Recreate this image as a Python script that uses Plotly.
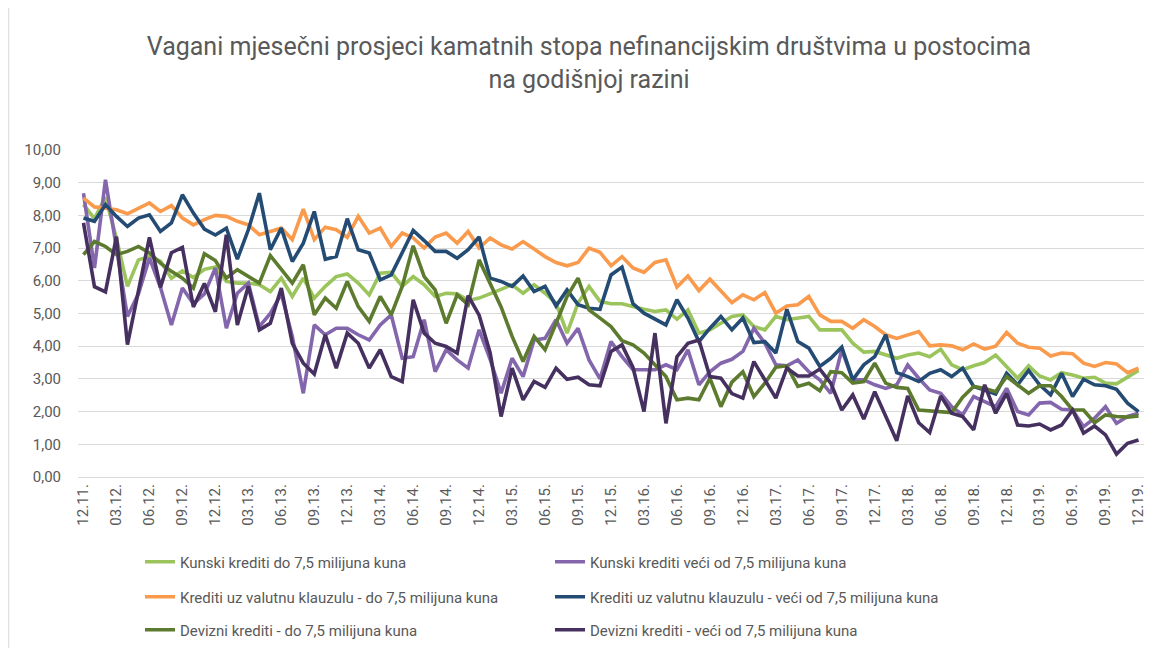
import plotly.graph_objects as go

# monthly categories 12.11. .. 12.19. (MM.YY.)
MONTHS = ['12.11.'] + [f'{m:02d}.{y:02d}.' for y in range(12, 20) for m in range(1, 13)]
TICK_LABELS = MONTHS[::3]

SERIES_NAMES = [
    'Kunski krediti do 7,5 milijuna kuna',
    'Kunski krediti veći od 7,5 milijuna kuna',
    'Krediti uz valutnu klauzulu - do 7,5 milijuna kuna',
    'Krediti uz valutnu klauzulu - veći od 7,5 milijuna kuna',
    'Devizni krediti - do 7,5 milijuna kuna',
    'Devizni krediti - veći od 7,5 milijuna kuna',
]

kunski_do = [
    8.33, 7.90, 8.55, 7.30, 5.83, 6.64, 6.74, 6.60, 6.08, 6.30, 6.10, 6.35, 6.42,
    5.98, 5.93, 5.93, 5.88, 5.67, 6.08, 5.52, 6.08, 5.47, 5.83, 6.13, 6.21, 5.93,
    5.57, 6.23, 6.26, 5.83, 6.13, 5.88, 5.52, 5.62, 5.60, 5.40, 5.47, 5.62, 5.74,
    5.88, 5.62, 5.88, 5.62, 5.32, 4.40, 5.32, 5.83, 5.37, 5.30, 5.30, 5.21, 5.13,
    5.06, 5.11, 4.83, 5.11, 4.40, 4.50, 4.70, 4.91, 4.96, 4.60, 4.50, 4.91, 4.81,
    4.86, 4.91, 4.50, 4.50, 4.50, 4.09, 3.82, 3.84, 3.73, 3.63, 3.73, 3.79, 3.68,
    3.91, 3.43, 3.28, 3.40, 3.50, 3.73, 3.38, 3.02, 3.40, 3.09, 2.97, 3.19, 3.12,
    3.02, 3.05, 2.87, 2.85, 3.07, 3.26,
]
kunski_vece = [
    8.68, 6.39, 9.09, 6.95, 4.91, 5.60, 6.70, 5.80, 4.65, 5.78, 5.30, 5.60, 6.39,
    4.55, 5.62, 5.93, 4.60, 5.00, 5.60, 4.30, 2.56, 4.65, 4.35, 4.55, 4.55, 4.35,
    4.19, 4.65, 4.96, 3.63, 3.68, 4.81, 3.22, 3.89, 3.58, 3.33, 4.50, 3.60, 2.56,
    3.63, 3.07, 4.19, 4.24, 4.81, 4.09, 4.55, 3.58, 3.00, 4.14, 3.68, 3.28, 3.28,
    3.28, 3.43, 3.28, 3.89, 2.82, 3.22, 3.48, 3.60, 3.84, 4.55, 4.09, 3.43, 3.40,
    3.58, 3.22, 2.97, 2.56, 3.89, 2.97, 2.97, 2.82, 2.71, 2.82, 3.43, 3.02, 2.66,
    2.56, 2.15, 1.90, 2.46, 2.31, 2.15, 2.71, 2.00, 1.90, 2.26, 2.28, 2.07, 2.05,
    1.54, 1.80, 2.15, 1.64, 1.85, 1.95,
]
vk_do = [
    8.53, 8.26, 8.22, 8.17, 8.05, 8.22, 8.38, 8.12, 8.30, 7.92, 7.71, 7.87, 8.00,
    7.97, 7.82, 7.71, 7.41, 7.51, 7.61, 7.26, 8.19, 7.26, 7.64, 7.56, 7.33, 7.97,
    7.46, 7.61, 7.05, 7.46, 7.31, 7.00, 7.34, 7.46, 7.15, 7.51, 7.00, 7.31, 7.10,
    6.97, 7.20, 6.97, 6.74, 6.56, 6.46, 6.56, 7.00, 6.87, 6.46, 6.74, 6.39, 6.26,
    6.56, 6.64, 5.81, 6.15, 5.70, 6.05, 5.67, 5.33, 5.57, 5.42, 5.64, 5.01, 5.23,
    5.27, 5.52, 4.96, 4.76, 4.76, 4.55, 4.81, 4.60, 4.35, 4.24, 4.35, 4.45, 4.01,
    4.04, 4.01, 3.89, 4.07, 3.91, 4.00, 4.42, 4.09, 3.97, 3.94, 3.70, 3.79, 3.77,
    3.48, 3.38, 3.50, 3.46, 3.19, 3.33,
]
vk_vece = [
    7.92, 7.82, 8.33, 7.97, 7.66, 7.92, 8.02, 7.51, 7.77, 8.63, 8.07, 7.58, 7.40,
    7.61, 6.66, 7.56, 8.68, 6.95, 7.61, 6.59, 7.15, 8.12, 6.66, 6.74, 7.90, 6.95,
    6.85, 6.03, 6.18, 6.85, 7.54, 7.23, 6.90, 6.90, 6.69, 6.95, 7.34, 6.08, 5.98,
    5.83, 6.15, 5.67, 5.83, 5.23, 5.72, 5.27, 5.16, 5.13, 6.18, 6.42, 5.30, 5.01,
    4.83, 4.65, 5.42, 4.86, 4.14, 4.55, 4.91, 4.50, 4.86, 4.11, 4.14, 3.79, 5.13,
    4.14, 3.94, 3.38, 3.63, 3.97, 2.97, 3.43, 3.68, 4.35, 3.19, 3.07, 2.92, 3.17,
    3.28, 3.07, 3.33, 2.77, 2.66, 2.54, 3.17, 2.82, 3.26, 2.82, 2.51, 3.17, 2.46,
    2.99, 2.82, 2.79, 2.68, 2.26, 2.00,
]
devizni_do = [
    6.80, 7.20, 7.05, 6.80, 6.90, 7.05, 6.85, 6.54, 6.29, 6.08, 5.78, 6.83, 6.62,
    6.08, 6.34, 6.13, 5.93, 6.77, 6.34, 5.93, 6.49, 4.96, 5.47, 5.16, 5.98, 5.21,
    4.76, 5.52, 4.96, 5.83, 7.07, 6.13, 5.72, 4.70, 5.57, 5.27, 6.64, 5.95, 5.20,
    4.30, 3.53, 4.30, 3.89, 4.70, 5.52, 6.08, 5.11, 4.86, 4.60, 4.17, 4.04, 3.79,
    3.43, 3.07, 2.36, 2.41, 2.36, 3.02, 2.15, 2.90, 3.22, 2.46, 2.87, 3.36, 3.40,
    2.77, 2.87, 2.64, 3.22, 3.19, 2.87, 2.92, 3.48, 2.87, 2.74, 2.71, 2.05, 2.02,
    2.00, 1.97, 2.44, 2.77, 2.71, 2.61, 3.07, 2.82, 2.56, 2.79, 2.79, 2.46, 2.05,
    2.05, 1.66, 1.90, 1.85, 1.83, 1.87,
]
devizni_vece = [
    7.77, 5.82, 5.66, 7.35, 4.05, 5.72, 7.33, 5.80, 6.86, 7.02, 5.20, 5.92, 5.05,
    7.41, 4.65, 5.83, 4.50, 4.70, 5.78, 4.09, 3.48, 3.15, 4.35, 3.33, 4.40, 4.09,
    3.33, 3.89, 3.07, 2.92, 5.42, 4.40, 4.09, 3.99, 3.79, 5.55, 4.95, 3.80, 1.85,
    3.33, 2.36, 2.92, 2.74, 3.33, 2.99, 3.05, 2.82, 2.79, 3.84, 4.04, 3.35, 2.00,
    4.40, 1.64, 3.68, 4.09, 4.19, 3.07, 3.02, 2.55, 2.41, 3.53, 2.97, 2.41, 3.33,
    3.09, 3.09, 3.30, 2.87, 2.05, 2.51, 1.77, 2.61, 1.85, 1.11, 2.48, 1.66, 1.36,
    2.48, 1.95, 1.85, 1.44, 2.82, 1.95, 2.56, 1.59, 1.56, 1.62, 1.44, 1.59, 2.05,
    1.34, 1.56, 1.29, 0.70, 1.03, 1.13,
]

SERIES = [kunski_do, kunski_vece, vk_do, vk_vece, devizni_do, devizni_vece]
COLORS = ['#9BC55C', '#8466AD', '#F99A4C', '#244B73', '#5D7B2E', '#45305F']
LEGENDS = ['legend', 'legend', 'legend2', 'legend2', 'legend3', 'legend3']

# the page body keeps its default 8px margin, so the figure is drawn 8px
# smaller and every pixel position below is measured from the figure corner
PAGE_MARGIN = 8
W, H = 1155 - PAGE_MARGIN, 648 - PAGE_MARGIN
MARGIN = dict(l=70, r=8, t=142, b=171)
PLOT_W = W - MARGIN['l'] - MARGIN['r']
# vertical centre of each legend row, in pixels from the figure top
LEGEND_ROWS_PX = [554, 589, 622]

FONT = 'Roboto'
GREY = '#595959'

fig = go.Figure()
for name, values, color, leg in zip(SERIES_NAMES, SERIES, COLORS, LEGENDS):
    fig.add_trace(go.Scatter(
        x=MONTHS, y=values, name=name, mode='lines', legend=leg,
        line=dict(color=color, width=3.6)))

# legend rows (one legend object per row, two entries each)
legend_style = dict(
    orientation='h', xref='container', yref='container',
    x=132 / W, xanchor='left', yanchor='middle',
    entrywidth=365, entrywidthmode='pixels',
    font=dict(family=FONT, size=15, color=GREY), bgcolor='rgba(0,0,0,0)')
legends = {
    key: dict(y=1 - py / H, **legend_style)
    for key, py in zip(['legend', 'legend2', 'legend3'], LEGEND_ROWS_PX)
}

# thin frame line on the left edge of the chart area
frame_x = (0.5 - MARGIN['l']) / PLOT_W

fig.update_layout(
    width=W, height=H,
    margin=MARGIN,
    paper_bgcolor='white', plot_bgcolor='white',
    separators=',.',
    title=dict(
        text='Vagani mjesečni prosjeci kamatnih stopa nefinancijskim društvima u postocima'
             '<br>na godišnjoj razini',
        x=581 / W, xanchor='center', xref='container',
        y=1 - 47 / H, yanchor='middle', yref='container',
        font=dict(family=FONT, size=25, color=GREY)),
    xaxis=dict(
        type='category', range=[-0.5, len(MONTHS) - 0.5],
        tickmode='array', tickvals=TICK_LABELS, ticktext=TICK_LABELS,
        tickangle=-90, showgrid=False, showline=True, linecolor='#D9D9D9',
        ticks='', tickfont=dict(family=FONT, size=15, color=GREY)),
    yaxis=dict(
        range=[0, 10], dtick=1, tickformat='.2f', showgrid=True,
        gridcolor='#D9D9D9', gridwidth=1, zeroline=False, ticks='',
        ticklabelstandoff=16,
        tickfont=dict(family=FONT, size=15, color=GREY)),
    showlegend=True,
    shapes=[dict(type='line', xref='paper', yref='paper',
                 x0=frame_x, x1=frame_x, y0=-2.0, y1=2.0,
                 line=dict(color='#D9D9D9', width=1), layer='below')],
    **legends,
)

fig.write_html('out.html')
